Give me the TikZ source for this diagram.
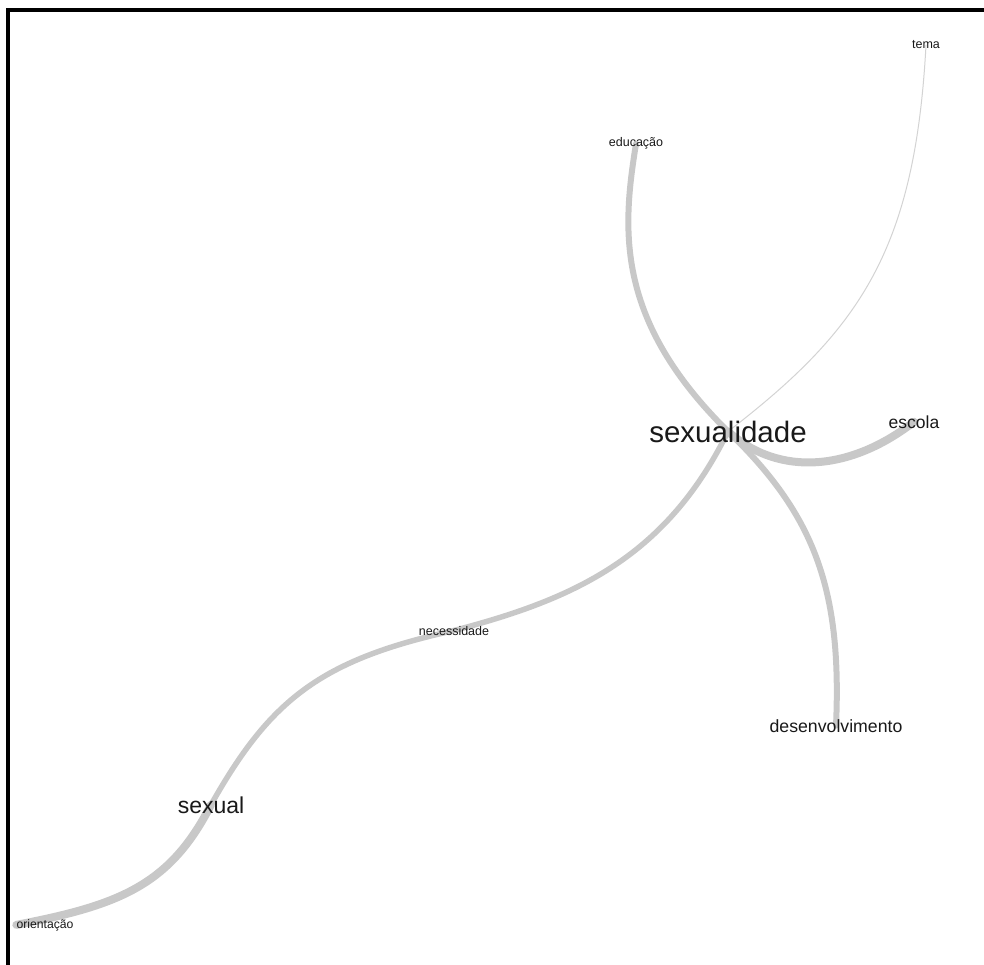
\documentclass[tikz,border=0pt]{standalone}
\usepackage{fontspec}
\setmainfont{Liberation Sans}
\usepackage{tikz}
\usetikzlibrary{positioning,backgrounds}
\definecolor{edgegray}{RGB}{200,200,200}
\definecolor{wordink}{RGB}{25,25,25}
\newcommand{\wsize}[1]{\fontsize{#1}{#1}\selectfont}
\tikzset{word/.style={inner sep=0pt,anchor=base,text=wordink},
         link/.style={draw=edgegray,line cap=round}}

\begin{document}
\begin{tikzpicture}[x=1pt,y=-1pt,thick link/.style={link,line width=8pt},mid link/.style={link,line width=5.5pt}]
\useasboundingbox (0,0) rectangle (984,965);
\draw[line width=4pt] (8,965) -- (8,10) -- (984,10);
\node[word,font=\wsize{29.5}] (sexualidade) at (728,442) {sexualidade};
\node[word,font=\wsize{17.5}] (escola) at (914,428) {escola};
\node[word,font=\wsize{17.7}] (desenvolvimento) at (836,732) {desenvolvimento};
\node[word,font=\wsize{23}] (sexual) at (211,813) {sexual};
\node[word,font=\wsize{12.5}] (necessidade) at (454,635) {necessidade};
\node[word,font=\wsize{12.5}] (educacao) at (636,147) {educação};
\node[word,font=\wsize{12.2}] (orientacao) at (45,928) {orientação};
\node[word,font=\wsize{12.5}] (tema) at (926,49) {tema};
\begin{scope}[on background layer]
\draw[link,line width=1pt,draw=edgegray!80] (sexualidade.center) .. controls (860,330) and (915,250) .. (tema.center);
\draw[mid link,line width=6pt] (sexualidade.center) .. controls (615,320) and (622,230) .. (educacao.center);
\draw[thick link] (sexualidade.center) .. controls (780,478) and (852,470) .. (escola.center);
\draw[mid link,line width=6pt] (sexualidade.center) .. controls (815,515) and (842,590) .. (desenvolvimento.center);
\draw[mid link] (sexualidade.center) .. controls (665,560) and (570,600) .. (necessidade.center);
\draw[mid link] (necessidade.center) .. controls (320,660) and (270,700) .. (sexual.center);
\draw[thick link] (sexual.center) .. controls (170,885) and (120,905) .. (orientacao.west);
\end{scope}
\end{tikzpicture}
\end{document}
